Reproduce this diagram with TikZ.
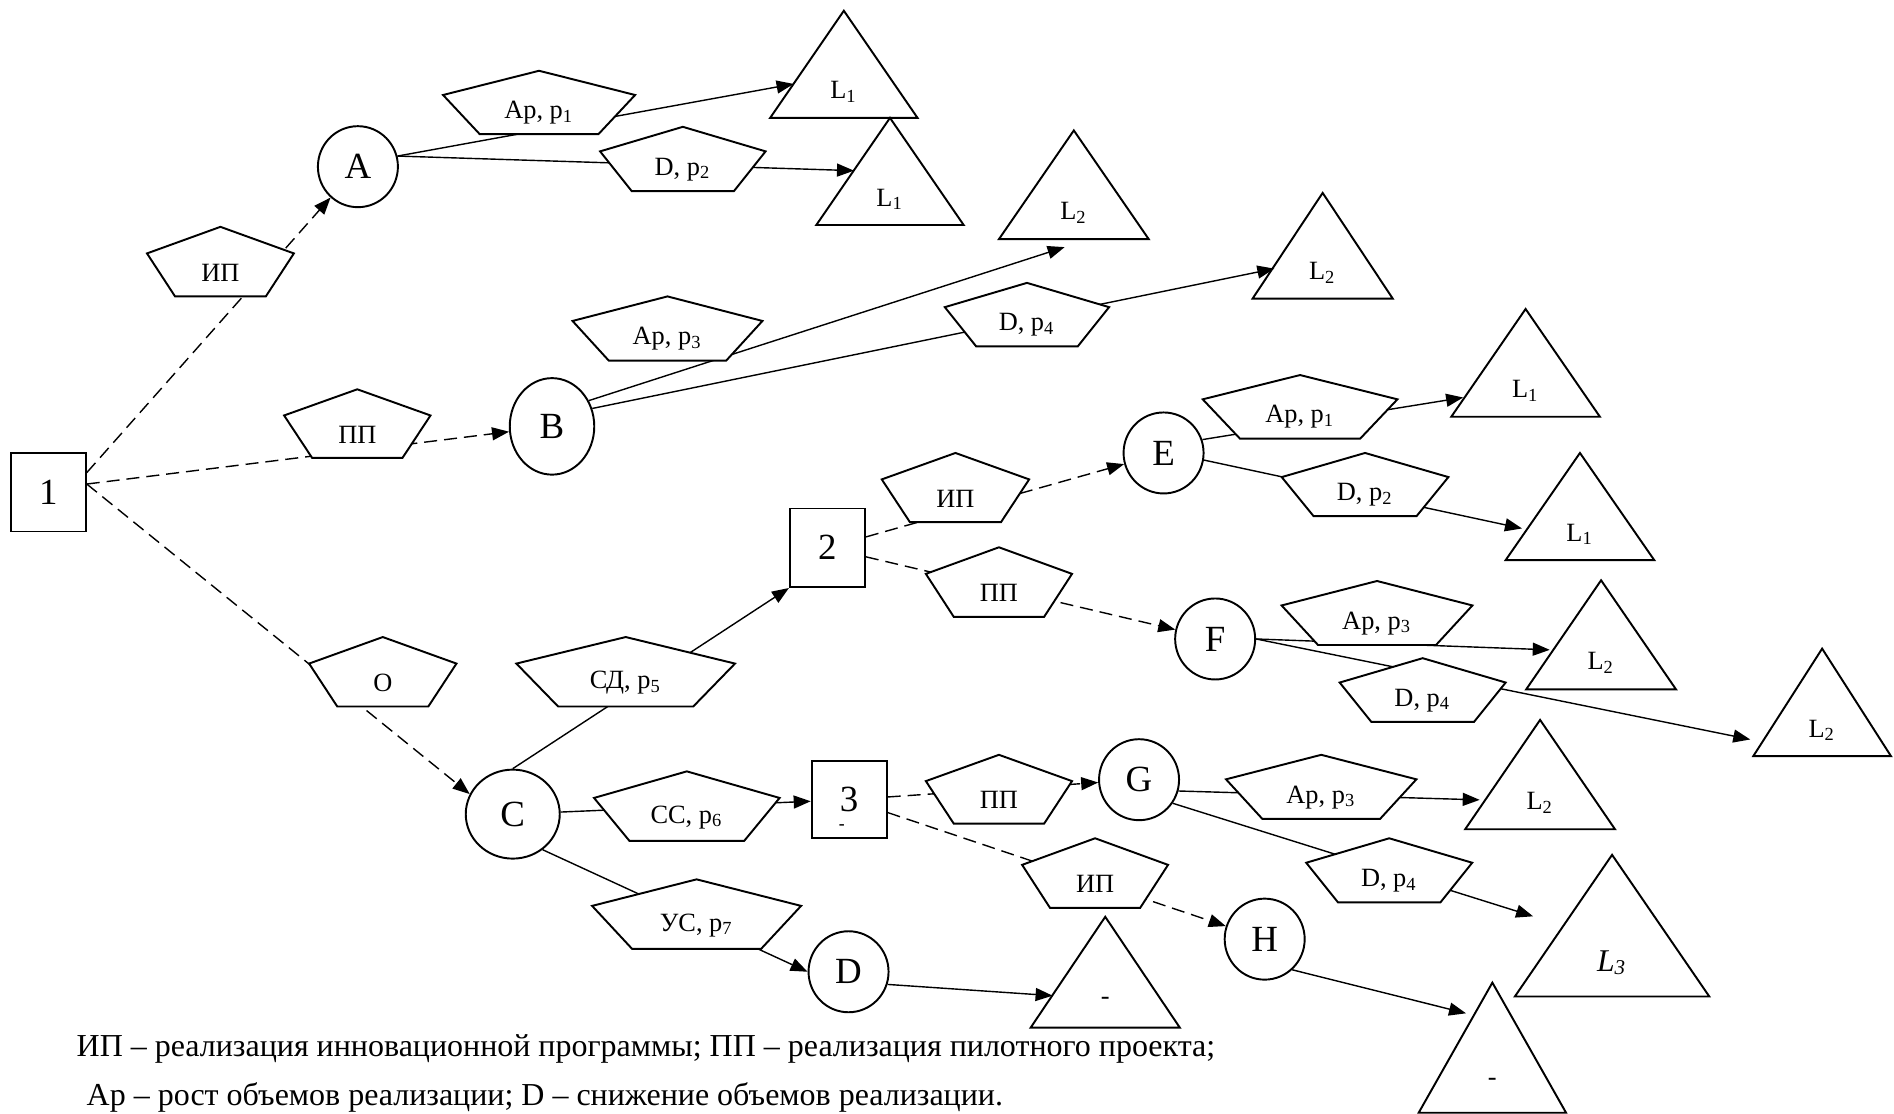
\documentclass[tikz,border=0pt]{standalone}
\usepackage{fontspec}
\setmainfont{Liberation Serif}
\usetikzlibrary{arrows.meta,shapes.geometric}

% пятиугольник: имя, центр x, верх y, высота, полуширина, текст
\newcommand{\pent}[6]{%
  \path[pentline] (#2,#3) -- ({#2+#5},{#3+0.382*#4})
    -- ({#2+0.618*#5},{#3+#4}) -- ({#2-0.618*#5},{#3+#4})
    -- ({#2-#5},{#3+0.382*#4}) -- cycle;
  \node[penttext] (#1) at (#2,{#3+0.66*#4}) {#6};}

% треугольник исхода: имя, вершина x, вершина y, полуширина, высота, текст
\newcommand{\outcome}[6]{%
  \path[triline] (#2,#3) -- ({#2+#4},{#3+#5}) -- ({#2-#4},{#3+#5}) -- cycle;
  \node[tritext] (#1) at (#2,{#3+0.76*#5}) {#6};}

\begin{document}
\begin{tikzpicture}[x=0.12079mm, y=-0.12079mm,
  >={Triangle[length=1.7mm, width=1.3mm]},
  state/.style={draw, ellipse, line width=0.55pt, inner sep=0pt,
    minimum width=8mm, minimum height=8.1mm, font=\fontsize{10.5}{12}\selectfont},
  decision/.style={draw, rectangle, line width=0.55pt, inner sep=0pt,
    minimum width=7.5mm, minimum height=7.85mm, font=\fontsize{10.5}{12}\selectfont},
  link/.style={->, line width=0.4pt},
  dlink/.style={link, dash pattern=on 1.3mm off 0.7mm},
  pentline/.style={draw, fill=white, line width=0.55pt},
  penttext/.style={inner sep=0pt, font=\fontsize{7.5}{9}\selectfont},
  triline/.style={draw, line width=0.55pt},
  tritext/.style={inner sep=0pt, font=\fontsize{7.5}{9}\selectfont},
  legend/.style={inner sep=0pt, anchor=base west, font=\fontsize{9.1}{11}\selectfont}]

  \useasboundingbox (0,0) rectangle (1568,922);

  % --- 1. узлы решений ---
  \node[decision] (d1) at (40,407.5) {1};
  \node[decision] (d2) at (685,453.5) {2};
  \node[decision, minimum height=7.75mm] (d3) at (703,662) {3};
  \node[inner sep=0pt, font=\tiny\bfseries] (d3m) at (697,685) {-};

  % --- 2. случайные узлы ---
  \node[state] (A) at (296.3,138) {A};
  \node[state, minimum width=8.45mm, minimum height=9.65mm] (B) at (457,353) {B};
  \node[state, minimum width=9.4mm, minimum height=8.9mm] (C) at (424.5,674) {C};
  \node[state] (D) at (702.5,804.5) {D};
  \node[state] (E) at (963.3,375) {E};
  \node[state] (F) at (1006,529) {F};
  \node[state] (G) at (943,645.5) {G};
  \node[state] (H) at (1047,777.5) {H};

  % --- 3. концы стрелок у исходов ---
  \coordinate (tA1) at (657,69.5);
  \coordinate (tA2) at (707,141.3);
  \coordinate (tB1) at (881.4,204.6);
  \coordinate (tB2) at (1055,222.4);
  \coordinate (tD)  at (871.4,824.3);
  \coordinate (tE1) at (1211.3,329.1);
  \coordinate (tE2) at (1260,437.5);
  \coordinate (tF1) at (1283,538);
  \coordinate (tF2) at (1449,612.2);
  \coordinate (tG1) at (1225,662.2);
  \coordinate (tG2) at (1269.2,758.6);
  \coordinate (tH)  at (1213.7,838.9);

  % --- 4. стратегии (пунктир) ---
  \draw[dlink] (d1.27) -- (A);
  \draw[dlink] (d1.12) -- (B);
  \draw[dlink] (d1.12) -- (C.155);
  \draw[dlink] (d2) -- (E);
  \draw[dlink] (d2) -- (F);
  \draw[dlink] (d3) -- (G);
  \draw[dlink] (d3) -- (H);

  % --- 5. состояния (сплошные) ---
  \draw[link] (A.15) -- (tA1);
  \draw[link] (A.15) -- (tA2);
  \draw[link] (B.35) -- (tB1);
  \draw[link] (B.24) -- (tB2);
  \draw[link] (C.north) -- (d2.south west);
  \draw[link] (C) -- (d3);
  \draw[link] (C.-50) -- (D.west);
  \draw[link] (D.-18) -- (tD);
  \draw[link] (E.19) -- (tE1);
  \draw[link] (E.-10) -- (tE2);
  \draw[link] (F.east) -- (tF1);
  \draw[link] (F.east) -- (tF2);
  \draw[link] (G.-16) -- (tG1);
  \draw[link] (G.-35) -- (tG2);
  \draw[link] (H.-48) -- (tH);

  % --- 6. пятиугольники с подписями ---
  \pent{pIPa}{182.5}{187.8}{57.6}{60.8}{ИП}
  \pent{pPPa}{295.8}{322.3}{56.7}{60.6}{ПП}
  \pent{pO}{316.9}{527.4}{57.5}{61}{О}
  \pent{pApA}{446.3}{58.6}{52.5}{79.5}{Ap, p\textsubscript{1}}
  \pent{pDA}{565.3}{105}{53.2}{68.5}{D, p\textsubscript{2}}
  \pent{pApB}{552.6}{245.4}{53.2}{78.6}{Ap, p\textsubscript{3}}
  \pent{pDB}{850.2}{234.2}{52.6}{68}{D, p\textsubscript{4}}
  \pent{pSD}{518}{527.4}{57.5}{90.5}{СД, p\textsubscript{5}}
  \pent{pSS}{568.6}{638.6}{57.6}{76.8}{СС, p\textsubscript{6}}
  \pent{pUS}{576.7}{728}{57.5}{86.5}{УС, p\textsubscript{7}}
  \pent{pIPb}{791}{375}{57.3}{61}{ИП}
  \pent{pPPb}{827}{453.1}{57.6}{60.5}{ПП}
  \pent{pApE}{1076.3}{310.5}{52.6}{80.6}{Ap, p\textsubscript{1}}
  \pent{pDE}{1130.1}{375}{52.3}{69}{D, p\textsubscript{2}}
  \pent{pApF}{1140}{481}{53}{79}{Ap, p\textsubscript{3}}
  \pent{pDF}{1177.8}{544.9}{52.8}{68.7}{D, p\textsubscript{4}}
  \pent{pPPg}{827}{624.9}{57}{60.5}{ПП}
  \pent{pApG}{1093.8}{624.9}{53.1}{78.8}{Ap, p\textsubscript{3}}
  \pent{pDG}{1150.1}{694}{53}{68.7}{D, p\textsubscript{4}}
  \pent{pIPh}{906.6}{694}{57.6}{60.4}{ИП}

  % --- 7. исходы (треугольники) ---
  \outcome{LA1}{698.6}{8.9}{61}{88.7}{L\textsubscript{1}}
  \outcome{LA2}{736.8}{97.6}{61}{88.7}{L\textsubscript{1}}
  \outcome{LB1}{889}{108}{62}{90}{L\textsubscript{2}}
  \outcome{LB2}{1095}{159.7}{58}{87.5}{L\textsubscript{2}}
  \outcome{LE1}{1263}{255.8}{61.5}{89.2}{L\textsubscript{1}}
  \outcome{LE2}{1308}{375}{61.5}{88.7}{L\textsubscript{1}}
  \outcome{LF1}{1325.5}{480.4}{62}{90.3}{L\textsubscript{2}}
  \outcome{LF2}{1508.5}{537}{57}{89}{L\textsubscript{2}}
  \outcome{LG1}{1275}{596}{62}{90.5}{L\textsubscript{2}}
  \outcome{LG2}{1334.6}{707.7}{80.5}{117.3}{\fontsize{9}{10}\selectfont\textit{L\textsubscript{3}}}
  \outcome{LD}{915}{759}{61.7}{91.7}{-}
  \outcome{LH}{1235.5}{813.5}{61}{107.7}{-}

  % --- 8. пояснения ---
  \node[legend] (leg1) at (62.9,874.8) {ИП – реализация инновационной программы; ПП – реализация пилотного проекта;};
  \node[legend] (leg2) at (71.2,915.5) {Ap – рост объемов реализации; D – снижение объемов реализации.};

\end{tikzpicture}
\end{document}
